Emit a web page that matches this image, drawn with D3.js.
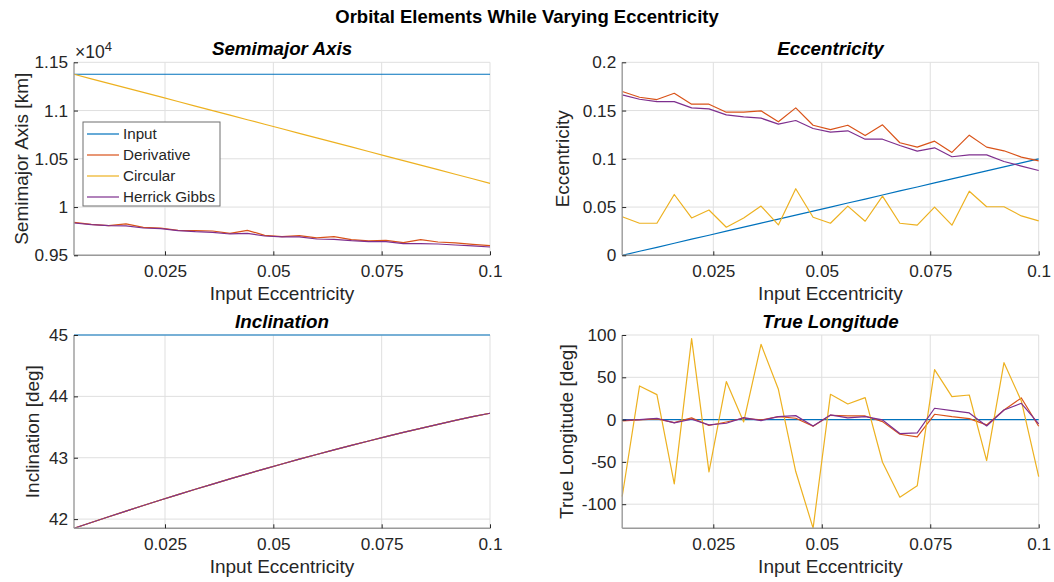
<!DOCTYPE html>
<html>
<head>
<meta charset="utf-8">
<script src="https://cdn.jsdelivr.net/npm/d3@7"></script>
<style>
  html, body { margin: 0; padding: 0; background: #fff; }
  svg { display: block; font-family: "Liberation Sans", Arial, Helvetica, sans-serif; }
</style>
</head>
<body>
<svg id="chart" width="1054" height="582"></svg>
<script>
// ---------- DATA ----------
const inputEcc = [0.004, 0.008, 0.012, 0.016, 0.020, 0.024, 0.028, 0.032, 0.036, 0.040, 0.044, 0.048, 0.052,
                  0.056, 0.060, 0.064, 0.068, 0.072, 0.076, 0.080, 0.084, 0.088, 0.092, 0.096, 0.100];
const seriesNames = ["Input", "Derivative", "Circular", "Herrick Gibbs"];
const seriesColors = ["#0072BD", "#D95319", "#EDB120", "#7E2F8E"];
const xTicks = [0.025, 0.05, 0.075, 0.1];
const xTickLabels = ["0.025", "0.05", "0.075", "0.1"];

// Semimajor axis [km]
const smaInput = [11376, 11376, 11376, 11376, 11376, 11376, 11376, 11376, 11376, 11376, 11376, 11376, 11376,
                  11376, 11376, 11376, 11376, 11376, 11376, 11376, 11376, 11376, 11376, 11376, 11376];
const smaDerivative = [9842, 9821, 9807, 9825, 9790, 9783, 9759, 9756, 9752, 9728, 9759, 9707, 9693,
                       9704, 9680, 9693, 9662, 9649, 9655, 9631, 9662, 9638, 9628, 9614, 9600];
const smaCircular = [11376, 11329, 11282, 11235, 11188, 11141, 11094, 11046, 10999, 10952, 10905, 10858, 10811,
                     10764, 10717, 10670, 10623, 10576, 10528, 10481, 10434, 10387, 10340, 10293, 10246];
const smaHerrick = [9835, 9818, 9807, 9804, 9783, 9776, 9756, 9745, 9738, 9721, 9728, 9700, 9690,
                    9690, 9669, 9666, 9652, 9642, 9642, 9621, 9621, 9617, 9607, 9597, 9586];
const smaTicks = [9500, 10000, 10500, 11000, 11500];
const smaTickLabels = ["0.95", "1", "1.05", "1.1", "1.15"];

// Eccentricity
const eccInput = [0, 0.0042, 0.0083, 0.0125, 0.0167, 0.0208, 0.025, 0.0292, 0.0333, 0.0375, 0.0417, 0.0458, 0.05,
                  0.0542, 0.0583, 0.0625, 0.0667, 0.0708, 0.075, 0.0792, 0.0833, 0.0875, 0.0917, 0.0958, 0.1];
const eccDerivative = [0.1697, 0.1638, 0.1614, 0.1679, 0.1566, 0.1566, 0.1483, 0.1483, 0.1497, 0.1383, 0.1528, 0.1348, 0.1303,
                       0.1348, 0.1241, 0.1352, 0.1166, 0.1121, 0.1183, 0.1066, 0.1245, 0.1121, 0.1083, 0.1017, 0.0979];
const eccCircular = [0.0400, 0.0332, 0.0332, 0.0630, 0.0387, 0.0469, 0.0291, 0.0387, 0.0510, 0.0315, 0.0690, 0.0394, 0.0332,
                     0.0510, 0.0353, 0.0613, 0.0332, 0.0312, 0.0500, 0.0312, 0.0664, 0.0503, 0.0503, 0.0408, 0.0356];
const eccHerrick = [0.1662, 0.1617, 0.1593, 0.1593, 0.1528, 0.1517, 0.1455, 0.1434, 0.1421, 0.1359, 0.1397, 0.1314, 0.1276,
                    0.1290, 0.1203, 0.1203, 0.1138, 0.1079, 0.1114, 0.1021, 0.1041, 0.1041, 0.0972, 0.0924, 0.0879];
const eccTicks = [0, 0.05, 0.1, 0.15, 0.2];
const eccTickLabels = ["0", "0.05", "0.1", "0.15", "0.2"];

// Inclination [deg]
const incInput = [45, 45, 45, 45, 45, 45, 45, 45, 45, 45, 45, 45, 45, 45, 45, 45, 45, 45, 45, 45, 45, 45, 45, 45, 45];
const incDerivative = [41.850, 41.945, 42.039, 42.131, 42.222, 42.311, 42.399, 42.486, 42.571, 42.655, 42.738, 42.819, 42.898,
                       42.976, 43.053, 43.128, 43.201, 43.273, 43.343, 43.412, 43.479, 43.544, 43.608, 43.670, 43.725];
const incCircular = [41.850, 41.945, 42.039, 42.131, 42.222, 42.311, 42.399, 42.486, 42.571, 42.655, 42.738, 42.819, 42.898,
                     42.976, 43.053, 43.128, 43.201, 43.273, 43.343, 43.412, 43.479, 43.544, 43.608, 43.670, 43.725];
const incHerrick = [41.850, 41.945, 42.039, 42.131, 42.222, 42.311, 42.399, 42.486, 42.571, 42.655, 42.738, 42.819, 42.898,
                    42.976, 43.053, 43.128, 43.201, 43.273, 43.343, 43.412, 43.479, 43.544, 43.608, 43.670, 43.725];
const incTicks = [42, 43, 44, 45];
const incTickLabels = ["42", "43", "44", "45"];

// True longitude [deg]
const tlInput = [0, 0, 0, 0, 0, 0, 0, 0, 0, 0, 0, 0, 0, 0, 0, 0, 0, 0, 0, 0, 0, 0, 0, 0, 0];
const tlDerivative = [-1.6, -0.4, 0.8, -3.5, 2.0, -7.0, -2.8, 1.6, -0.4, 3.5, 1.6, -7.9, 5.1,
                      4.3, 4.3, -2.4, -17.3, -20.5, 6.3, 3.5, 1.2, -6.3, 11.4, 25.6, -7.9];
const tlCircular = [-90.9, 39.8, 29.5, -76.0, 95.7, -61.8, 44.9, -2.8, 89.0, 35.8, -61.4, -128.3, 29.9,
                    18.5, 26.0, -50.4, -91.7, -78.3, 59.0, 27.2, 29.1, -48.4, 67.3, 22.0, -67.3];
const tlHerrick = [-0.8, 0.0, 1.6, -3.9, 0.4, -6.3, -4.3, 2.4, -1.2, 3.5, 4.7, -7.5, 5.5,
                   2.0, 3.5, -0.4, -16.5, -15.7, 13.4, 10.6, 7.9, -7.5, 11.4, 19.3, -5.1];
const tlTicks = [-100, -50, 0, 50, 100];
const tlTickLabels = ["-100", "-50", "0", "50", "100"];

// ---------- DRAWING ----------
const svg = d3.select("#chart");
svg.append("rect").attr("width", 1054).attr("height", 582).attr("fill", "#fff");

const FONT_TICK = 17.2;
const FONT_LABEL = 19;
const TEXT_COLOR = "#262626";

svg.append("text")
  .attr("x", 527).attr("y", 23)
  .attr("text-anchor", "middle")
  .attr("font-weight", "bold")
  .attr("font-size", 18.5)
  .attr("fill", "#000")
  .text("Orbital Elements While Varying Eccentricity");

function panel(cfg) {
  const g = svg.append("g");
  const x = d3.scaleLinear().domain([0.004, 0.1]).range([cfg.left, cfg.right]);
  const y = d3.scaleLinear().domain(cfg.yDomain).range([cfg.bottom, cfg.top]);

  // grid
  const grid = g.append("g").attr("stroke", "#dfdfdf").attr("stroke-width", 1);
  xTicks.forEach(t => grid.append("line")
    .attr("x1", x(t)).attr("x2", x(t)).attr("y1", cfg.top).attr("y2", cfg.bottom));
  cfg.yTicks.forEach(t => grid.append("line")
    .attr("x1", cfg.left).attr("x2", cfg.right).attr("y1", y(t)).attr("y2", y(t)));

  // series
  const line = d3.line().x((d, i) => x(inputEcc[i])).y(d => y(d));
  cfg.series.forEach((s, k) => {
    g.append("path")
      .datum(s)
      .attr("fill", "none")
      .attr("stroke", seriesColors[k])
      .attr("stroke-width", 1.2)
      .attr("stroke-linejoin", "round")
      .attr("d", line);
  });

  // axes using d3 axis generators
  const xAxis = d3.axisBottom(x).tickValues(xTicks).tickFormat((d, i) => xTickLabels[i])
    .tickSizeInner(-4).tickSizeOuter(0).tickPadding(9);
  const gx = g.append("g").attr("transform", `translate(0,${cfg.bottom})`).call(xAxis);
  const yAxis = d3.axisLeft(y).tickValues(cfg.yTicks).tickFormat((d, i) => cfg.yTickLabels[i])
    .tickSizeInner(-4).tickSizeOuter(0).tickPadding(6);
  const gy = g.append("g").attr("transform", `translate(${cfg.left},0)`).call(yAxis);
  [gx, gy].forEach(a => {
    a.select(".domain").attr("stroke", "#9a9a9a").attr("stroke-width", 1.4);
    a.selectAll(".tick line").attr("stroke", "#262626").attr("stroke-width", 1);
    a.selectAll(".tick text").attr("fill", TEXT_COLOR).attr("font-size", FONT_TICK)
      .attr("font-family", "Liberation Sans, Arial, sans-serif");
  });
  gx.select(".domain").attr("d", `M${cfg.left},0H${cfg.right}`);
  gy.select(".domain").attr("d", `M0,${cfg.top}V${cfg.bottom}`);
  gx.selectAll(".tick text").attr("dy", "0.71em");

  // title
  g.append("text")
    .attr("x", (cfg.left + cfg.right) / 2).attr("y", cfg.top - 7.5)
    .attr("text-anchor", "middle")
    .attr("font-weight", "bold").attr("font-style", "italic")
    .attr("font-size", 18.8).attr("fill", "#000")
    .text(cfg.title);

  // x label
  g.append("text")
    .attr("x", (cfg.left + cfg.right) / 2).attr("y", cfg.bottom + 45)
    .attr("text-anchor", "middle")
    .attr("font-size", FONT_LABEL).attr("fill", TEXT_COLOR)
    .text("Input Eccentricity");

  // y label
  g.append("text")
    .attr("transform", `translate(${cfg.ylabelX},${(cfg.top + cfg.bottom) / 2}) rotate(-90)`)
    .attr("text-anchor", "middle")
    .attr("font-size", FONT_LABEL).attr("fill", TEXT_COLOR)
    .text(cfg.ylabel);

  return { g, x, y };
}

const tl = panel({
  left: 74, right: 490, top: 62.3, bottom: 255.3,
  yDomain: [9500, 11500], yTicks: smaTicks, yTickLabels: smaTickLabels,
  title: "Semimajor Axis", ylabel: "Semimajor Axis [km]", ylabelX: 28,
  series: [smaInput, smaDerivative, smaCircular, smaHerrick]
});
const tr = panel({
  left: 622.2, right: 1038.7, top: 62.3, bottom: 255.3,
  yDomain: [0, 0.2], yTicks: eccTicks, yTickLabels: eccTickLabels,
  title: "Eccentricity", ylabel: "Eccentricity", ylabelX: 569,
  series: [eccInput, eccDerivative, eccCircular, eccHerrick]
});
panel({
  left: 74, right: 490, top: 335, bottom: 528.3,
  yDomain: [41.85, 45], yTicks: incTicks, yTickLabels: incTickLabels,
  title: "Inclination", ylabel: "Inclination [deg]", ylabelX: 39,
  series: [incInput, incDerivative, incCircular, incHerrick]
});
panel({
  left: 622.2, right: 1038.7, top: 335, bottom: 528.3,
  yDomain: [-128.5, 100], yTicks: tlTicks, yTickLabels: tlTickLabels,
  title: "True Longitude", ylabel: "True Longitude [deg]", ylabelX: 573,
  series: [tlInput, tlDerivative, tlCircular, tlHerrick]
});

// exponent label for semimajor axis
const ex = tl.g.append("text")
  .attr("x", 75).attr("y", 58)
  .attr("font-size", 17.5).attr("fill", TEXT_COLOR);
ex.append("tspan").text("\u00D710");
ex.append("tspan").attr("dy", -7).attr("font-size", 13).text("4");

// legend
const lg = tl.g.append("g").attr("transform", "translate(83,122)");
lg.append("rect").attr("width", 137).attr("height", 84)
  .attr("fill", "#fff").attr("stroke", "#6f6f6f").attr("stroke-width", 1);
seriesNames.forEach((n, k) => {
  const yy = 12 + k * 21;
  lg.append("line").attr("x1", 4).attr("x2", 36).attr("y1", yy).attr("y2", yy)
    .attr("stroke", seriesColors[k]).attr("stroke-width", 1.2);
  lg.append("text").attr("x", 40).attr("y", yy + 5.3)
    .attr("font-size", 15.2).attr("fill", TEXT_COLOR).text(n);
});
</script>
</body>
</html>
